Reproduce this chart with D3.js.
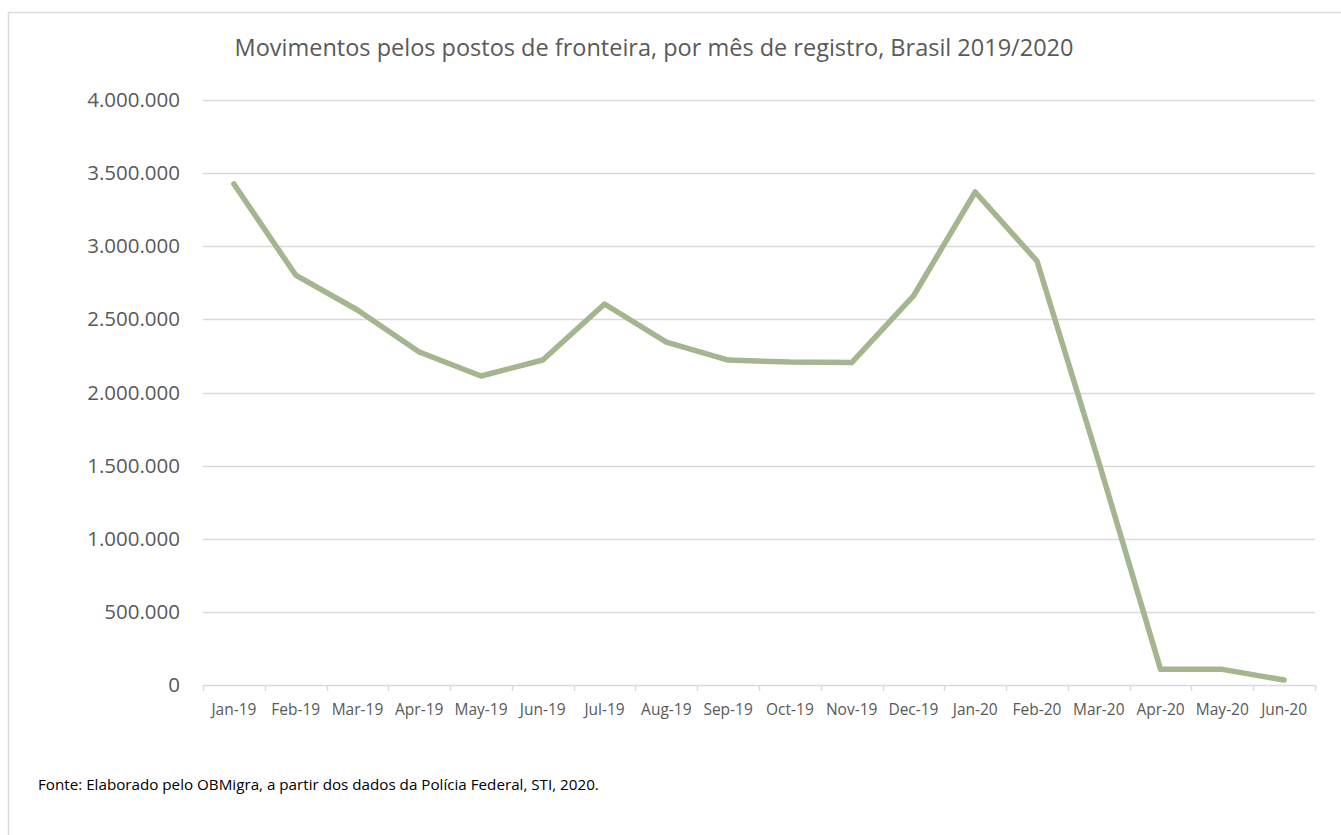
<!DOCTYPE html>
<html>
<head>
<meta charset="utf-8">
<script src="https://cdn.jsdelivr.net/npm/d3@7"></script>
<style>
  body { margin: 0; background: #fff; }
  svg { display: block; font-family: "Open Sans", sans-serif; }
</style>
</head>
<body>
<svg></svg>
<script>
// months on the x axis
var months = ["Jan-19","Feb-19","Mar-19","Apr-19","May-19","Jun-19","Jul-19","Aug-19","Sep-19",
  "Oct-19","Nov-19","Dec-19","Jan-20","Feb-20","Mar-20","Apr-20","May-20","Jun-20"];

// movimentos (entradas + saidas)
var movimentos = [3426000, 2803000, 2564000, 2277000, 2113000, 2222000, 2605000, 2345000, 2222000,
  2208000, 2205000, 2660000, 3371000, 2899000, 1525000, 107000, 107000, 34000];

var yTicks = [0, 500000, 1000000, 1500000, 2000000, 2500000, 3000000, 3500000, 4000000];

var title = "Movimentos pelos postos de fronteira, por mês de registro, Brasil 2019/2020";
var source = "Fonte: Elaborado pelo OBMigra, a partir dos dados da Polícia Federal, STI, 2020.";

var W = 1341, H = 835;
var margin = {top: 100, right: 26, bottom: 150, left: 203};
var width = W - margin.left - margin.right,
    height = H - margin.top - margin.bottom;

var ptBR = d3.formatLocale({decimal: ",", thousands: ".", grouping: [3], currency: ["R$", ""]});
var fmt = ptBR.format(",d");

var svg = d3.select("svg").attr("width", W).attr("height", H);

// chart area border (runs off the bottom/right of the picture)
svg.append("rect")
  .attr("x", 8.5).attr("y", 12.5)
  .attr("width", W + 10).attr("height", H + 10)
  .style("fill", "none").style("stroke", "#d9d9d9").style("stroke-width", 1.5);

svg.append("text")
  .attr("x", 654).attr("y", 56)
  .style("text-anchor", "middle")
  .style("font-size", "23.5px")
  .style("fill", "#595959")
  .text(title);

var g = svg.append("g").attr("transform", "translate(" + margin.left + "," + margin.top + ")");

var x = d3.scaleBand().domain(months).range([0, width]).padding(0);
var y = d3.scaleLinear().domain([0, 4000000]).range([height, 0]);

// gridlines
g.append("g")
  .selectAll("line")
  .data(yTicks.filter(function(d) { return d > 0; }))
  .join("line")
  .attr("x1", 0).attr("x2", width)
  .attr("y1", function(d) { return Math.round(y(d)) + 0.5; })
  .attr("y2", function(d) { return Math.round(y(d)) + 0.5; })
  .style("stroke", "#d9d9d9").style("stroke-width", 1.5);

// y axis labels
var yAxis = g.append("g")
  .call(d3.axisLeft(y).tickValues(yTicks).tickFormat(fmt).tickSize(0).tickPadding(23));
yAxis.select(".domain").remove();
yAxis.selectAll("text")
  .style("font-family", "Open Sans, sans-serif")
  .style("font-size", "20.5px")
  .style("fill", "#595959");

// x axis: baseline, ticks at category boundaries, labels centred
var xAxis = g.append("g")
  .attr("transform", "translate(0," + height + ")")
  .call(d3.axisBottom(x).tickSize(0).tickPadding(19));
xAxis.select(".domain").remove();
xAxis.selectAll("text")
  .style("font-family", "Open Sans, sans-serif")
  .style("font-size", "15.5px")
  .style("fill", "#595959");

xAxis.append("line")
  .attr("x1", 0).attr("x2", width)
  .attr("y1", 0.5).attr("y2", 0.5)
  .style("stroke", "#d9d9d9").style("stroke-width", 1.5);

xAxis.selectAll(".bound")
  .data(months.map(function(m) { return x(m); }).concat([width]))
  .join("line")
  .attr("class", "bound")
  .attr("x1", function(d) { return Math.round(d) + 0.5; })
  .attr("x2", function(d) { return Math.round(d) + 0.5; })
  .attr("y1", 0).attr("y2", 6)
  .style("stroke", "#d9d9d9").style("stroke-width", 1.5);

// the series line
var line = d3.line()
  .x(function(d, i) { return x(months[i]) + x.bandwidth() / 2; })
  .y(function(d) { return y(d); });

g.append("path")
  .datum(movimentos)
  .attr("d", line)
  .style("fill", "none")
  .style("stroke", "#a3b68f")
  .style("stroke-width", 5.5)
  .style("stroke-linejoin", "round")
  .style("stroke-linecap", "round");

svg.append("text")
  .attr("x", 38).attr("y", 790)
  .style("font-size", "15.2px")
  .style("fill", "#000")
  .text(source);
</script>
</body>
</html>
